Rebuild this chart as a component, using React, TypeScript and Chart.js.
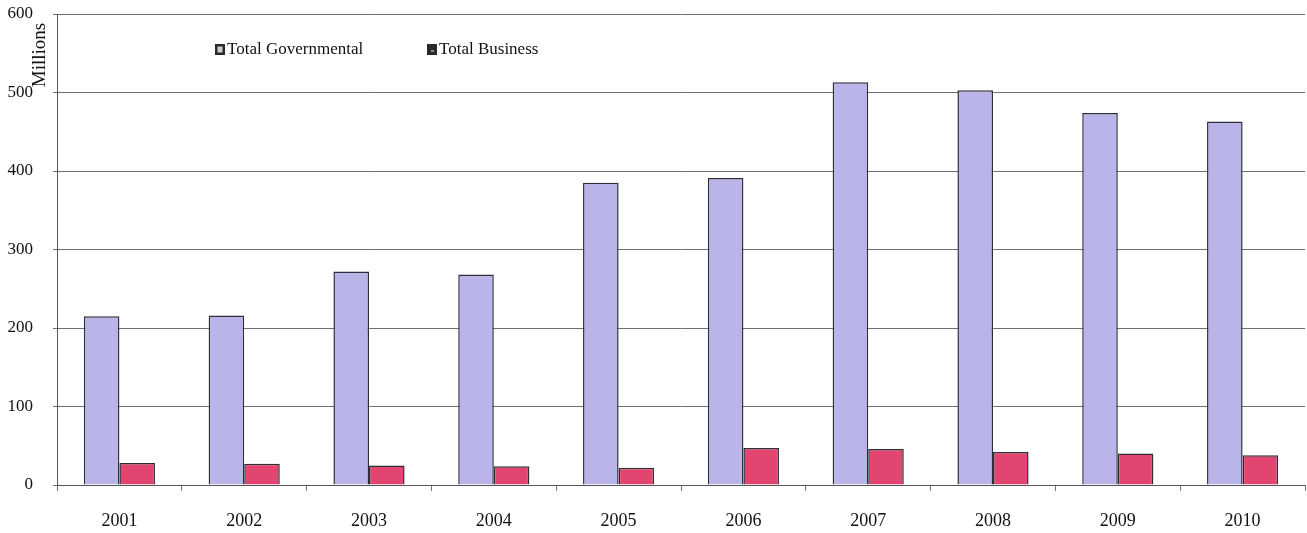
import React, { useEffect, useRef } from "react";
import { Chart, registerables } from "chart.js";

Chart.register(...registerables);

const years = ["2001", "2002", "2003", "2004", "2005", "2006", "2007", "2008", "2009", "2010"];
const governmental = [215, 216, 272, 268, 385, 391, 513, 503, 474, 463];
const business = [28, 27, 25, 24, 22, 47, 46, 42, 40, 38];
const seriesNames = ["Total Governmental", "Total Business"];
const yAxisTitle = "Millions";

const FONT = "'Liberation Serif', 'Times New Roman', serif";
const GOV_COLOR = "#b9b5e8";
const BUS_COLOR = "#e2456f";
const EDGE = "#2e2e3a";

const overlayPlugin = {
  id: "overlay",
  afterDraw(chart: any) {
    const ctx = chart.ctx;
    const area = chart.chartArea;
    ctx.save();
    // rotated axis title near top-left
    ctx.font = `19px ${FONT}`;
    ctx.fillStyle = "#111";
    ctx.translate(area.left - 17, area.top + 41);
    ctx.rotate(-Math.PI / 2);
    ctx.textAlign = "center";
    ctx.textBaseline = "middle";
    ctx.fillText(yAxisTitle, 0, 0);
    ctx.restore();

    // legend inside plot area
    ctx.save();
    ctx.font = `17px ${FONT}`;
    ctx.textBaseline = "middle";
    const y = area.top + 35;
    const items = [
      { x: area.left + 158, label: seriesNames[0], dark: false },
      { x: area.left + 370, label: seriesNames[1], dark: true },
    ];
    for (const it of items) {
      ctx.fillStyle = "#2a2a2a";
      ctx.fillRect(it.x, y - 5, 10, 11);
      ctx.fillStyle = it.dark ? "#888" : "#cfcfcf";
      if (it.dark) ctx.fillRect(it.x + 4, y + 1, 3, 2);
      else ctx.fillRect(it.x + 2.5, y - 2.5, 5, 6);
      ctx.fillStyle = "#111";
      ctx.textAlign = "left";
      ctx.fillText(it.label, it.x + 12, y + 1);
    }
    ctx.restore();
  },
};

export default function App() {
  const canvasRef = useRef<HTMLCanvasElement | null>(null);

  useEffect(() => {
    if (!canvasRef.current) return;
    const chart = new Chart(canvasRef.current, {
      type: "bar",
      data: {
        labels: years,
        datasets: [
          {
            label: seriesNames[0],
            data: governmental,
            backgroundColor: GOV_COLOR,
            borderColor: EDGE,
            borderWidth: 1.5,
            categoryPercentage: 0.57,
            barPercentage: 1.0,
          },
          {
            label: seriesNames[1],
            data: business,
            backgroundColor: BUS_COLOR,
            borderColor: EDGE,
            borderWidth: 1.5,
            categoryPercentage: 0.57,
            barPercentage: 1.0,
          },
        ],
      },
      options: {
        responsive: false,
        animation: false,
        maintainAspectRatio: false,
        layout: { padding: { top: 14, right: 2, bottom: 0, left: 0 } },
        plugins: {
          legend: { display: false },
          tooltip: { enabled: false },
        },
        scales: {
          x: {
            offset: true,
            afterFit(scale: any) {
              scale.height = 48;
              scale.paddingLeft = 0;
              scale.paddingRight = 0;
            },
            grid: {
              display: true,
              offset: true,
              drawOnChartArea: false,
              drawTicks: true,
              tickLength: 6,
              color: "#777",
            },
            border: { display: true, color: "#555", width: 1 },
            ticks: {
              color: "#111",
              font: { family: FONT, size: 18 },
              padding: 19,
            },
          },
          y: {
            min: 0,
            max: 600,
            afterFit(scale: any) {
              scale.width = 57;
              scale.paddingTop = 0;
              scale.paddingBottom = 0;
            },
            ticks: {
              stepSize: 100,
              color: "#111",
              font: { family: FONT, size: 17 },
              padding: 20,
            },
            grid: {
              color: "#6f6f6f",
              lineWidth: 1,
              drawTicks: true,
              tickLength: 4,
            },
            border: { display: true, color: "#555", width: 1 },
          },
        },
      },
      plugins: [overlayPlugin],
    });
    return () => chart.destroy();
  }, []);

  return (
    <div style={{ position: "absolute", left: 0, top: 0, width: 1307, height: 533, background: "#fff" }}>
      <canvas ref={canvasRef} width={1307} height={533} style={{ width: 1307, height: 533, display: "block" }} />
    </div>
  );
}
